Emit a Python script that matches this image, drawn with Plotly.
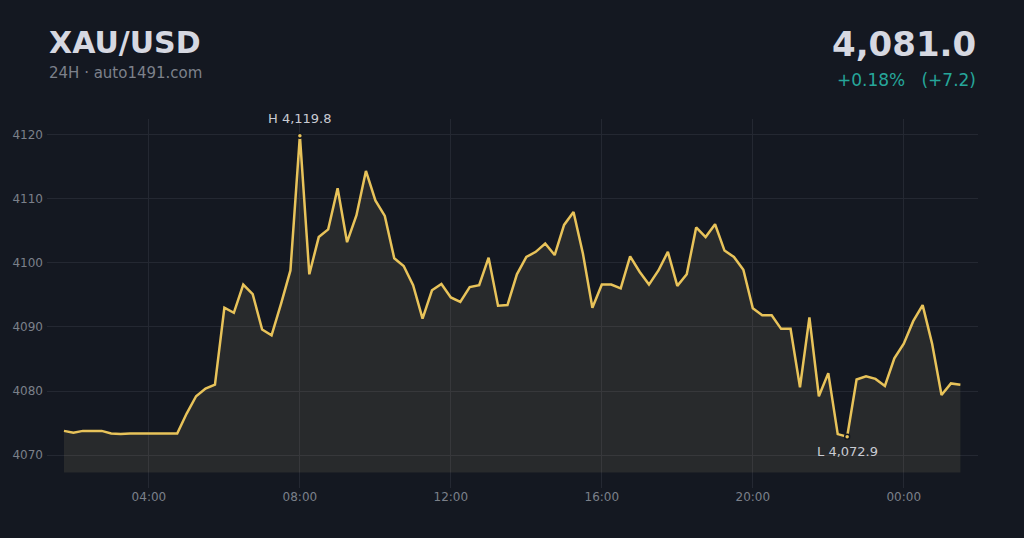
"""
XAU/USD 24h intraday price chart (15 min closes)
"""
import pandas as pd
import plotly.graph_objects as go

# 15-minute closes, 01:45 -> 01:30 next day
start_time = "2025-01-01 01:45"
prices = [
    4073.8, 4073.5, 4073.8, 4073.8, 4073.8, 4073.4, 4073.3, 4073.4, 4073.4, 4073.4,
    4073.4, 4073.3, 4073.4, 4076.5, 4079.2, 4080.4, 4081.0, 4093.0, 4092.2, 4096.6,
    4095.1, 4089.6, 4088.7, 4093.6, 4098.8, 4119.8, 4098.2, 4104.0, 4105.2, 4111.6,
    4103.2, 4107.4, 4114.3, 4109.7, 4107.3, 4100.7, 4099.5, 4096.5, 4091.3, 4095.7,
    4096.7, 4094.6, 4093.9, 4096.2, 4096.5, 4100.8, 4093.3, 4093.4, 4098.2, 4100.9,
    4101.7, 4103.0, 4101.2, 4105.9, 4107.9, 4101.4, 4093.0, 4096.6, 4096.6, 4096.0,
    4101.0, 4098.6, 4096.6, 4098.8, 4101.7, 4096.4, 4098.2, 4105.5, 4104.0, 4106.0,
    4101.9, 4100.9, 4098.9, 4092.9, 4091.8, 4091.8, 4089.7, 4089.7, 4080.6, 4091.5,
    4079.2, 4082.8, 4073.3, 4072.9, 4081.8, 4082.3, 4081.9, 4080.8, 4085.1, 4087.4,
    4090.9, 4093.4, 4087.4, 4079.4, 4081.2, 4081.0,
]
y_ticks = [4070, 4080, 4090, 4100, 4110, 4120]
fill_base = 4067.3

times = pd.date_range(start_time, periods=len(prices), freq="15min")
s = pd.Series(prices, index=times)

hi_t, hi_v = s.idxmax(), s.max()
lo_t, lo_v = s.idxmin(), s.min()
last = prices[-1]
chg = last - prices[0]
chg_pct = chg / prices[0] * 100

BG = "#141821"
GOLD = "#e8c35a"
GRID = "#242832"
TICK = "#7b808a"
FONT = "DejaVu Sans"

fig = go.Figure()

# baseline for the area fill
fig.add_trace(go.Scatter(
    x=times, y=[fill_base] * len(times),
    mode="lines", line=dict(width=0), hoverinfo="skip", showlegend=False,
))
fig.add_trace(go.Scatter(
    x=times, y=prices,
    mode="lines", line=dict(color=GOLD, width=2.5),
    fill="tonexty", fillcolor="rgba(225,205,150,0.10)",
    showlegend=False,
))
# high / low dots
fig.add_trace(go.Scatter(
    x=[hi_t, lo_t], y=[hi_v, lo_v],
    mode="markers",
    marker=dict(size=5, color=GOLD, line=dict(color=BG, width=1.5)),
    showlegend=False,
))

fig.add_annotation(x=hi_t, y=hi_v, text=f"H {hi_v:,.1f}", showarrow=False,
                   yshift=17, font=dict(family=FONT, size=13, color="#c9cbd3"))
fig.add_annotation(x=lo_t, y=lo_v, text=f"L {lo_v:,.1f}", showarrow=False,
                   yshift=-15, font=dict(family=FONT, size=13, color="#c9cbd3"))

# header text (paper coords, plot area is 369px tall)
H = 369.0
fig.add_annotation(xref="paper", yref="paper", x=0, y=1 + (119 - 42) / H,
                   xanchor="left", yanchor="middle", showarrow=False,
                   text="<b>XAU/USD</b>",
                   font=dict(family=FONT, size=30, color="#d6d8e1"))
fig.add_annotation(xref="paper", yref="paper", x=0, y=1 + (119 - 73) / H,
                   xanchor="left", yanchor="middle", showarrow=False,
                   text="24H · auto1491.com",
                   font=dict(family=FONT, size=15, color="#7d818b"))
fig.add_annotation(xref="paper", yref="paper", x=1, y=1 + (119 - 44) / H,
                   xanchor="right", yanchor="middle", showarrow=False,
                   text=f"<b>{last:,.1f}</b>",
                   font=dict(family=FONT, size=34, color="#d6d8e1"))
fig.add_annotation(xref="paper", yref="paper", x=1, y=1 + (119 - 80) / H,
                   xanchor="right", yanchor="middle", showarrow=False,
                   text=f"{chg_pct:+.2f}%&nbsp;&nbsp;&nbsp;({chg:+.1f})",
                   font=dict(family=FONT, size=17, color="#26a69a"))

fig.update_layout(
    width=1024, height=538,
    margin=dict(l=47, r=46, t=119, b=50),
    paper_bgcolor=BG, plot_bgcolor=BG,
    font=dict(family=FONT, size=12, color=TICK),
    showlegend=False,
    hovermode="x",
)
fig.update_xaxes(
    range=[pd.Timestamp("2025-01-01 01:18"), pd.Timestamp("2025-01-02 01:58")],
    type="date", tick0="2025-01-01 00:00", dtick=4 * 3600 * 1000,
    tickformat="%H:%M", showgrid=True, gridcolor=GRID, gridwidth=1,
    zeroline=False, showline=False, ticks="", tickfont=dict(size=12, color=TICK),
)
fig.update_yaxes(
    range=[4064.9, 4122.4], tickvals=y_ticks, tickformat="d",
    showgrid=True, gridcolor=GRID, gridwidth=1, ticklabelstandoff=3,
    zeroline=False, showline=False, ticks="", tickfont=dict(size=12, color=TICK),
)

# drop the default page margin so the chart fills the window
fig.write_html("out.html", config={"displayModeBar": False},
               post_script="document.body.style.margin='0';")
